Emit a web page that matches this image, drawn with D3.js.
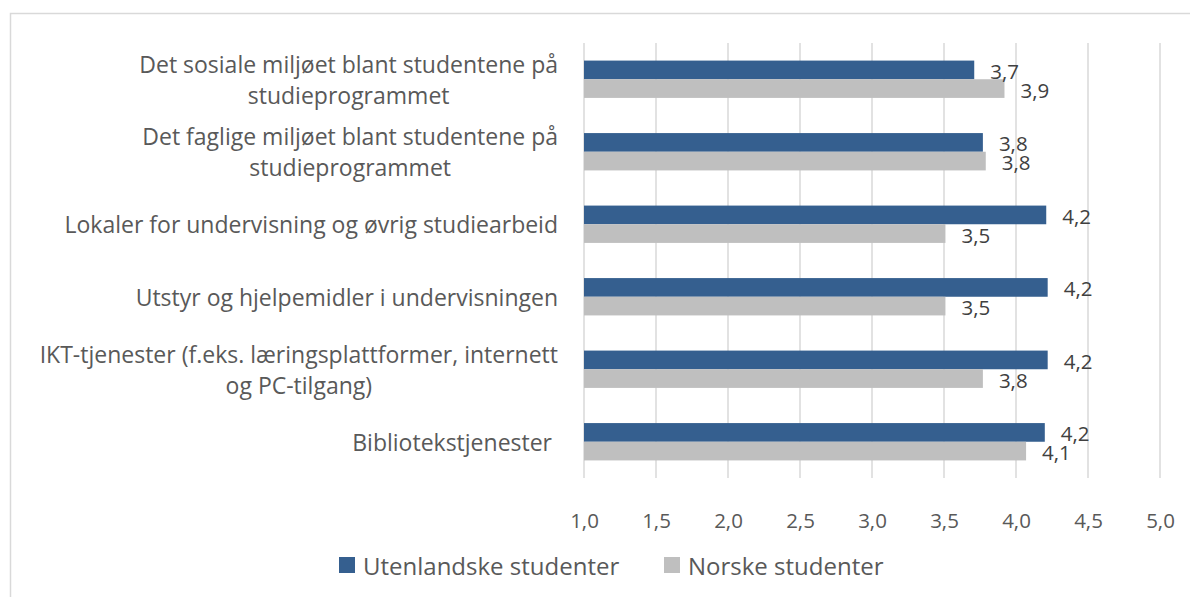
<!DOCTYPE html>
<html lang="no">
  <head>
    <meta charset="utf-8"/>
    <title>Studentenes vurdering</title>
    <style>
      body { margin: 0; background: #fff; }
      svg text { font-family: "Open Sans", sans-serif; white-space: pre; }
    </style>
  </head>
  <body>
    <svg id="chart"></svg>

    <script src="https://d3js.org/d3.v7.min.js"></script>
    <script type="text/javascript">
      const width = 1190;
      const height = 597;

      // categories, top to bottom, split into the lines they wrap on
      const categories = [
        ["Det sosiale miljøet blant studentene på", "studieprogrammet"],
        ["Det faglige miljøet blant studentene på", "studieprogrammet"],
        ["Lokaler for undervisning og øvrig studiearbeid"],
        ["Utstyr og hjelpemidler i undervisningen"],
        ["IKT-tjenester (f.eks. læringsplattformer, internett", "og PC-tilgang)"],
        ["Bibliotekstjenester "]
      ];
      const seriesNames = ["Utenlandske studenter", "Norske studenter"];
      const utenlandske = [3.71, 3.77, 4.21, 4.22, 4.22, 4.2];
      const norske = [3.92, 3.79, 3.51, 3.51, 3.77, 4.07];
      const xTicks = [1.0, 1.5, 2.0, 2.5, 3.0, 3.5, 4.0, 4.5, 5.0];

      const colors = ["#355f8f", "#bfbfbf"];
      const fmt = v => d3.format(".1f")(v).replace(".", ",");

      const svg = d3.select("#chart")
        .attr("width", width)
        .attr("height", height);

      // outer frame (only top and left edges show in the picture)
      svg.append("rect")
        .attr("x", 10.5).attr("y", 13.5)
        .attr("width", 1200).attr("height", 600)
        .attr("fill", "none")
        .attr("stroke", "#d9d9d9")
        .attr("stroke-width", 1.5);

      const catKeys = categories.map((c, i) => i);
      const x = d3.scaleLinear().domain([1, 5]).range([584, 1160]);
      const y = d3.scaleBand().domain(catKeys).range([43, 478])
        .paddingInner(0.485).paddingOuter(0.2425);
      const ySub = d3.scaleBand().domain([0, 1]).range([0, y.bandwidth()]);

      // vertical gridlines
      svg.append("g")
        .selectAll("line")
        .data(xTicks)
        .enter().append("line")
          .attr("x1", d => x(d)).attr("x2", d => x(d))
          .attr("y1", 43).attr("y2", 478)
          .attr("stroke", "#d9d9d9")
          .attr("stroke-width", 1.5);

      // x axis tick labels
      const xAxis = svg.append("g")
        .attr("transform", "translate(0,478)")
        .call(d3.axisBottom(x).tickValues(xTicks).tickFormat(fmt).tickSize(0).tickPadding(35));
      xAxis.select(".domain").remove();
      xAxis.selectAll("text")
        .attr("fill", "#595959")
        .style("font-size", "20.5px")
        .style("font-family", "Open Sans, sans-serif");

      const rows = catKeys.map(i => ({ i: i, vals: [utenlandske[i], norske[i]] }));

      const groups = svg.append("g")
        .selectAll("g")
        .data(rows)
        .enter().append("g")
          .attr("transform", d => "translate(0," + y(d.i) + ")");

      groups.selectAll("rect")
        .data(d => d.vals)
        .enter().append("rect")
          .attr("x", x(1))
          .attr("y", (d, j) => ySub(j))
          .attr("width", d => x(d) - x(1))
          .attr("height", ySub.bandwidth())
          .attr("fill", (d, j) => colors[j]);

      groups.selectAll("text.val")
        .data(d => d.vals)
        .enter().append("text")
          .attr("class", "val")
          .attr("x", d => x(d) + 16)
          .attr("y", (d, j) => ySub(j) + ySub.bandwidth() / 2 + 1)
          .attr("dominant-baseline", "central")
          .attr("fill", "#404040")
          .style("font-size", "20.5px")
          .text(fmt);

      // category labels, lines centred on each other, block right aligned
      const lineH = 31;
      const labelRight = 558;
      svg.append("g")
        .selectAll("text")
        .data(categories)
        .enter().append("text")
          .attr("fill", "#595959")
          .attr("text-anchor", "middle")
          .style("font-size", "23px")
          .each(function(lines, i) {
            const cy = y(i) + y.bandwidth() / 2;
            const top = cy - (lines.length - 1) * lineH / 2;
            const t = d3.select(this);
            const spans = lines.map((ln, k) => t.append("tspan")
              .attr("y", top + k * lineH)
              .attr("dominant-baseline", "central")
              .text(ln));
            const w = d3.max(spans, s => s.node().getComputedTextLength());
            spans.forEach(s => s.attr("x", labelRight - w / 2));
          });

      // legend
      const legendX = [339, 664];
      const legend = svg.append("g")
        .selectAll("g")
        .data(seriesNames)
        .enter().append("g")
          .attr("transform", (d, i) => "translate(" + legendX[i] + ",565)");
      legend.append("rect")
        .attr("x", 0).attr("y", -8)
        .attr("width", 16).attr("height", 16)
        .attr("fill", (d, i) => colors[i]);
      legend.append("text")
        .attr("x", 24).attr("y", 0)
        .attr("dominant-baseline", "central")
        .attr("fill", "#595959")
        .style("font-size", "24px")
        .text(d => d);
    </script>
  </body>
</html>
